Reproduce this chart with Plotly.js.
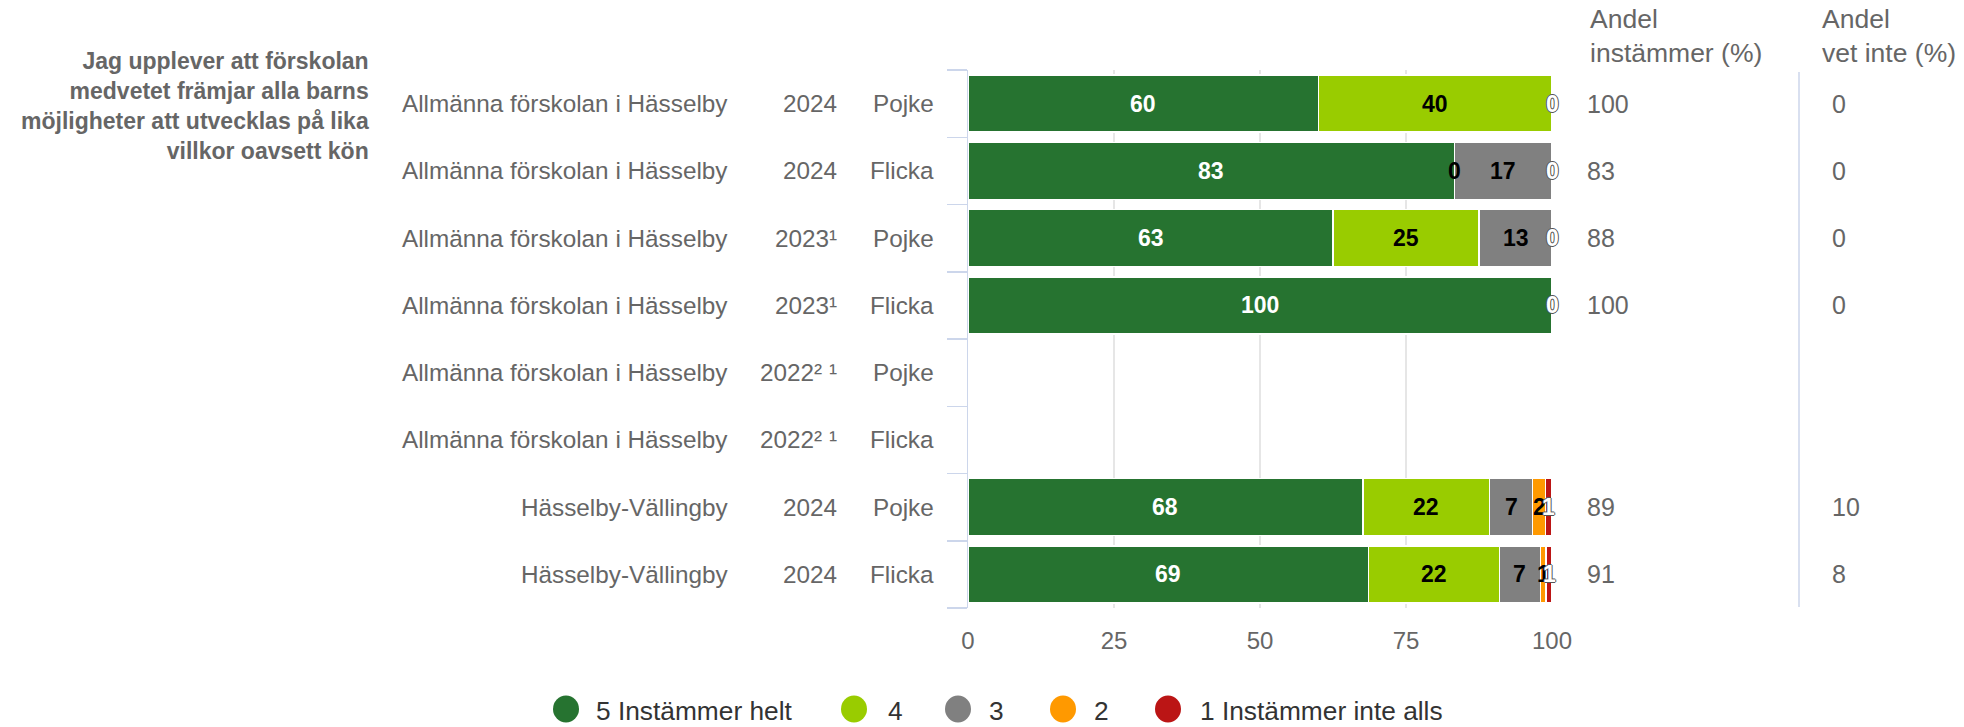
<!DOCTYPE html>
<html><head><meta charset="utf-8">
<script src="https://cdn.plot.ly/plotly-3.0.1.min.js"></script>
<style>html,body{margin:0;padding:0;background:#fff;} #chart{width:1964px;height:727px;}</style>
</head><body><div id="chart"></div>
<script>
const regions = ["Allmänna förskolan i Hässelby","Allmänna förskolan i Hässelby","Allmänna förskolan i Hässelby","Allmänna förskolan i Hässelby","Allmänna förskolan i Hässelby","Allmänna förskolan i Hässelby","Hässelby-Vällingby","Hässelby-Vällingby"];
const years = ["2024","2024","2023¹","2023¹","2022² ¹","2022² ¹","2024","2024"];
const genders = ["Pojke","Flicka","Pojke","Flicka","Pojke","Flicka","Pojke","Flicka"];
const seriesNames = ["5 Instämmer helt","4","3","2","1 Instämmer inte alls"];
const s5 = [60, 83.3, 62.5, 100, null, null, 67.6, 68.6];
const s4 = [40, 0, 25, 0, null, null, 21.7, 22.4];
const s3 = [0, 16.7, 12.5, 0, null, null, 7.4, 7.0];
const s2 = [0, 0, 0, 0, null, null, 2.2, 1.0];
const s1 = [0, 0, 0, 0, null, null, 1.1, 1.0];
const andelInstammer = [100, 83, 88, 100, null, null, 89, 91];
const andelVetInte = [0, 0, 0, 0, null, null, 10, 8];
const chartTitle = "Jag upplever att förskolan<br>medvetet främjar alla barns<br>möjligheter att utvecklas på lika<br>villkor oavsett kön";
const col1Header = "Andel<br>instämmer (%)";
const col2Header = "Andel<br>vet inte (%)";
const xTicks = [0, 25, 50, 75, 100];

const series = [s5, s4, s3, s2, s1];
const colors = ["#267330", "#99cc00", "#808080", "#ff9900", "#bb1515"];
const labelColors = ["#ffffff", "#000000", "#000000", "#000000", "#ffffff"];

const FONT = '"Liberation Sans", Arial, Helvetica, sans-serif';
const L = 968, R = 1552, T = 70, B = 608;
const W = R - L, H = B - T;
const px = x => (x - L) / W;
const py = y => (B - y) / H;
const rows = regions.map((_, i) => i);

const traces = series.map((vals, k) => ({
  type: 'bar', orientation: 'h', name: seriesNames[k],
  x: vals, y: rows,
  marker: {color: colors[k], line: {color: '#ffffff', width: 1.5}},
  showlegend: false, hoverinfo: 'x+name', width: 0.85
}));

const annotations = [];
const shapes = [];

// title
annotations.push({xref: 'paper', yref: 'paper', x: px(370), y: py(106.5), xanchor: 'right', yanchor: 'middle',
  align: 'right', showarrow: false, borderpad: 0,
  text: chartTitle, font: {family: FONT, size: 23, color: '#666666', weight: 700}});

// row labels
rows.forEach(i => {
  [[regions[i], 729], [years[i], 838], [genders[i], 935]].forEach(([t, xp]) => {
    annotations.push({xref: 'paper', yref: 'y', x: px(xp), y: i, xanchor: 'right', yanchor: 'middle',
      showarrow: false, borderpad: 0, text: t, font: {family: FONT, size: 24.3, color: '#666666'}});
  });
  if (andelInstammer[i] !== null) annotations.push({xref: 'paper', yref: 'y', x: px(1586), y: i, xanchor: 'left', yanchor: 'middle',
      showarrow: false, borderpad: 0, text: String(andelInstammer[i]), font: {family: FONT, size: 25, color: '#666666'}});
  if (andelVetInte[i] !== null) annotations.push({xref: 'paper', yref: 'y', x: px(1831), y: i, xanchor: 'left', yanchor: 'middle',
      showarrow: false, borderpad: 0, text: String(andelVetInte[i]), font: {family: FONT, size: 25, color: '#666666'}});
});

// column headers
annotations.push({xref: 'paper', yref: 'paper', x: px(1589), y: py(36), xanchor: 'left', yanchor: 'middle', align: 'left',
  showarrow: false, borderpad: 0, text: col1Header, font: {family: FONT, size: 26.5, color: '#666666'}});
annotations.push({xref: 'paper', yref: 'paper', x: px(1821), y: py(36), xanchor: 'left', yanchor: 'middle', align: 'left',
  showarrow: false, borderpad: 0, text: col2Header, font: {family: FONT, size: 26.5, color: '#666666'}});

// data labels (later series hide earlier ones at the same spot)
rows.forEach(i => {
  let cum = 0;
  const labels = {};
  series.forEach((vals, k) => {
    const v = vals[i];
    if (v === null) return;
    const mid = cum + v / 2;
    labels[mid.toFixed(1)] = {v, mid, k};
    cum += v;
  });
  Object.values(labels).forEach(({v, mid, k}) => {
    const outline = labelColors[k] === '#ffffff' && v < 5;
    annotations.push({xref: 'x', yref: 'y', x: Math.min(mid, 100), y: i, xanchor: 'center', yanchor: 'middle',
      showarrow: false, borderpad: 0, text: String(Math.round(v)),
      font: {family: FONT, size: 23, color: labelColors[k], weight: 700,
        shadow: outline ? '1px 0 0 #555, -1px 0 0 #555, 0 1px 0 #555, 0 -1px 0 #555' : 'none'}});
  });
});

// separator
shapes.push({type: 'line', xref: 'paper', yref: 'paper', x0: px(1799), x1: px(1799), y0: py(607), y1: py(72),
  line: {color: '#ccd6eb', width: 1.5}});

// legend
const legendCircle = [566, 854, 958, 1063, 1168];
const legendText = [595, 887, 988, 1093, 1199];
seriesNames.forEach((n, k) => {
  shapes.push({type: 'circle', xref: 'paper', yref: 'paper', xsizemode: 'pixel', ysizemode: 'pixel',
    xanchor: px(legendCircle[k]), yanchor: py(709), x0: -13, x1: 13, y0: -13.5, y1: 13.5,
    fillcolor: colors[k], line: {width: 0}});
  annotations.push({xref: 'paper', yref: 'paper', x: px(legendText[k]), y: py(711), xanchor: 'left', yanchor: 'middle',
    showarrow: false, borderpad: 0, text: n, font: {family: FONT, size: 26.3, color: '#333333'}});
});

const layout = {
  width: 1964, height: 727,
  margin: {l: L, r: 1964 - R, t: T, b: 727 - B, pad: 0},
  paper_bgcolor: '#ffffff', plot_bgcolor: '#ffffff',
  barmode: 'stack', bargap: 0.15,
  showlegend: false,
  font: {family: FONT, size: 24, color: '#666666'},
  xaxis: {range: [0, 100], tickvals: xTicks, ticktext: xTicks.map(String), showgrid: true, gridcolor: '#e6e6e6', gridwidth: 1.5,
    zeroline: false, showline: false, ticks: '', ticklabelstandoff: 16, tickfont: {family: FONT, size: 24, color: '#666666'}, fixedrange: true},
  yaxis: {range: [7.5, -0.5], tickvals: [-0.5, 0.5, 1.5, 2.5, 3.5, 4.5, 5.5, 6.5, 7.5], showticklabels: false,
    ticks: 'outside', ticklen: 20, tickwidth: 1.5, tickcolor: '#ccd6eb', showgrid: false, zeroline: false,
    showline: true, linecolor: '#ccd6eb', linewidth: 1.5, fixedrange: true},
  annotations, shapes
};

Plotly.newPlot('chart', traces, layout, {displayModeBar: false, staticPlot: true});
</script>
</body></html>
